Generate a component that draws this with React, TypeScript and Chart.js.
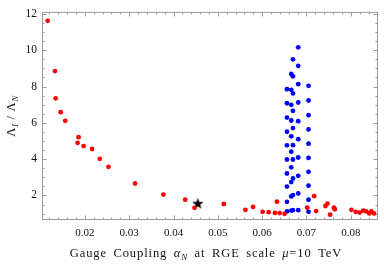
import { useEffect, useRef } from 'react';
import { Chart, registerables } from 'chart.js';

Chart.register(...registerables);

// ---- data ----
const redX = [0.01161, 0.01325, 0.01341, 0.01453, 0.01557, 0.01858, 0.01836, 0.01971, 0.02164, 0.02337, 0.02533, 0.03132, 0.03771, 0.04265, 0.04475, 0.05134, 0.05622, 0.05795, 0.06011, 0.06146, 0.0629, 0.06335, 0.06394, 0.06506, 0.07017, 0.07174, 0.07219, 0.07429, 0.07474, 0.07534, 0.07618, 0.0764, 0.08014, 0.08112, 0.08202, 0.08283, 0.0835, 0.08418, 0.08463, 0.08524];
const redY = [11.62, 8.85, 7.35, 6.59, 6.11, 5.21, 4.9, 4.72, 4.56, 4.02, 3.58, 2.66, 2.05, 1.77, 1.32, 1.53, 1.21, 1.37, 1.1, 1.08, 1.04, 1.66, 1.03, 0.99, 1.33, 1.96, 1.14, 1.42, 1.55, 0.94, 1.33, 1.24, 1.21, 1.1, 1.06, 1.17, 1.12, 1.01, 1.12, 1.01];

const blueX = [0.06814, 0.06695, 0.06814, 0.06657, 0.06695, 0.06814, 0.07046, 0.0656, 0.06657, 0.06695, 0.07046, 0.0656, 0.06657, 0.06814, 0.06695, 0.07046, 0.0656, 0.06657, 0.06814, 0.06695, 0.0656, 0.07046, 0.06657, 0.06814, 0.0656, 0.06695, 0.07046, 0.06657, 0.0656, 0.06695, 0.06814, 0.07046, 0.06657, 0.0656, 0.06695, 0.06657, 0.06814, 0.07046, 0.0656, 0.07046, 0.06657, 0.06695, 0.06814, 0.07046, 0.0656, 0.06657, 0.0656, 0.06695, 0.06814, 0.07046];
const blueY = [10.16, 9.5, 9.14, 8.69, 8.56, 8.13, 8.04, 7.85, 7.82, 7.62, 7.23, 7.08, 6.99, 7.12, 6.66, 6.42, 6.29, 6.13, 6.09, 5.71, 5.51, 5.64, 5.26, 5.1, 4.76, 4.77, 4.85, 4.41, 3.98, 3.98, 4.09, 4.07, 3.55, 3.21, 2.94, 2.74, 3.08, 3.3, 2.49, 2.54, 1.95, 2.02, 2.11, 1.77, 1.65, 1.17, 1.12, 1.19, 1.19, 1.1];

const starX = [0.04549];
const starY = [1.55];

const xTickValues = [0.02, 0.03, 0.04, 0.05, 0.06, 0.07, 0.08];
const yTickValues = [2, 4, 6, 8, 10, 12];

const xRange = [0.010326, 0.08614];
const yRange = [0.649, 12.11];

const xTitleParts = [
  { t: 'Gauge Coupling ' },
  { t: 'α', italic: true },
  { t: 'N', italic: true, sub: true },
  { t: ' at RGE scale ' },
  { t: 'μ', italic: true },
  { t: '=10 TeV' },
];
const yTitleParts = [
  { t: 'Λ' },
  { t: 'I', italic: true, sub: true },
  { t: ' / ' },
  { t: 'Λ' },
  { t: 'N', italic: true, sub: true },
];

const FONT = '"Liberation Serif", "DejaVu Serif", serif';

type Part = { t: string; italic?: boolean; sub?: boolean };

function setPartFont(ctx: CanvasRenderingContext2D, p: Part, size: number) {
  const s = p.sub ? size * 0.72 : size;
  ctx.font = `${p.italic ? 'italic ' : ''}${s}px ${FONT}`;
}

function measureParts(ctx: CanvasRenderingContext2D, parts: Part[], size: number) {
  let w = 0;
  for (const p of parts) {
    setPartFont(ctx, p, size);
    w += ctx.measureText(p.t).width;
  }
  return w;
}

function drawParts(ctx: CanvasRenderingContext2D, parts: Part[], size: number, x: number, y: number) {
  let cx = x;
  for (const p of parts) {
    setPartFont(ctx, p, size);
    ctx.fillText(p.t, cx, p.sub ? y + size * 0.25 : y);
    cx += ctx.measureText(p.t).width;
  }
}

function makeStar(): HTMLCanvasElement {
  const c = document.createElement('canvas');
  c.width = 13;
  c.height = 13;
  const g = c.getContext('2d')!;
  const cx = 6.5, cy = 6.7, ro = 6, ri = 2.5;
  g.beginPath();
  for (let i = 0; i < 10; i++) {
    const r = i % 2 === 0 ? ro : ri;
    const a = -Math.PI / 2 + (i * Math.PI) / 5;
    const px = cx + r * Math.cos(a);
    const py = cy + r * Math.sin(a);
    if (i === 0) g.moveTo(px, py);
    else g.lineTo(px, py);
  }
  g.closePath();
  g.fillStyle = '#000';
  g.fill();
  return c;
}

const framePlugin = {
  id: 'mmaFrame',
  beforeDatasetsDraw(chart: any) {
    const { ctx, chartArea: a, scales } = chart;
    const xs = scales.x;
    const ys = scales.y;
    ctx.save();
    ctx.strokeStyle = '#9a9a9a';
    ctx.lineWidth = 1;
    ctx.strokeRect(a.left + 0.5, a.top + 0.5, a.right - a.left - 1, a.bottom - a.top - 1);
    ctx.beginPath();
    // x ticks: minor every 0.002, major every 0.01
    const kx0 = Math.ceil(xs.min / 0.002 - 1e-9);
    const kx1 = Math.floor(xs.max / 0.002 + 1e-9);
    for (let k = kx0; k <= kx1; k++) {
      const px = Math.round(xs.getPixelForValue(k * 0.002)) + 0.5;
      const len = k % 5 === 0 ? 4.5 : 2.5;
      ctx.moveTo(px, a.bottom);
      ctx.lineTo(px, a.bottom - len);
      ctx.moveTo(px, a.top);
      ctx.lineTo(px, a.top + len);
    }
    // y ticks: minor every 0.5, major every 2
    const ky0 = Math.ceil(ys.min / 0.5 - 1e-9);
    const ky1 = Math.floor(ys.max / 0.5 + 1e-9);
    for (let k = ky0; k <= ky1; k++) {
      const py = Math.round(ys.getPixelForValue(k * 0.5)) + 0.5;
      const len = k % 4 === 0 ? 4.5 : 2.5;
      ctx.moveTo(a.left, py);
      ctx.lineTo(a.left + len, py);
      ctx.moveTo(a.right, py);
      ctx.lineTo(a.right - len, py);
    }
    ctx.stroke();
    ctx.restore();
  },
  afterDraw(chart: any) {
    const { ctx, chartArea: a } = chart;
    ctx.save();
    ctx.fillStyle = '#111';
    ctx.textBaseline = 'alphabetic';
    ctx.textAlign = 'left';
    (ctx as any).letterSpacing = '0.9px';
    (ctx as any).wordSpacing = '2.5px';
    const size = 12.5;
    const wx = measureParts(ctx, xTitleParts, size);
    drawParts(ctx, xTitleParts, size, 70 + (272 - wx) / 2, 257);
    (ctx as any).letterSpacing = '0.7px';
    const wy = measureParts(ctx, yTitleParts, size);
    ctx.translate(15, (a.top + a.bottom) / 2);
    ctx.rotate(-Math.PI / 2);
    drawParts(ctx, yTitleParts, size, -wy / 2, 0);
    ctx.restore();
  },
};

export default function App() {
  const ref = useRef<HTMLCanvasElement | null>(null);

  useEffect(() => {
    if (!ref.current) return;
    const star = makeStar();
    const red = redX.map((x, i) => ({ x, y: redY[i] }));
    const blue = blueX.map((x, i) => ({ x, y: blueY[i] }));
    const starPts = starX.map((x, i) => ({ x, y: starY[i] }));
    const chart = new Chart(ref.current, {
      type: 'scatter',
      data: {
        datasets: [
          { data: red, backgroundColor: '#ff0000', borderWidth: 0, pointRadius: 2.4 },
          { data: blue, backgroundColor: '#0000ff', borderWidth: 0, pointRadius: 2.4 },
          { data: starPts, pointStyle: star as any, pointRadius: 6, backgroundColor: '#000', borderWidth: 0 },
        ],
      },
      options: {
        animation: false,
        responsive: false,
        maintainAspectRatio: false,
        layout: { padding: { top: 8, right: 5, bottom: 0, left: 0 } },
        plugins: { legend: { display: false }, tooltip: { enabled: false } },
        scales: {
          x: {
            type: 'linear',
            min: xRange[0],
            max: xRange[1],
            grid: { display: false, drawTicks: false },
            border: { display: false },
            afterFit: (s: any) => { s.height = 44; },
            afterBuildTicks: (s: any) => { s.ticks = xTickValues.map((v) => ({ value: v })); },
            ticks: {
              padding: 7,
              maxRotation: 0,
              color: '#111',
              font: { family: FONT, size: 11 },
              callback: (v: any) => Number(v).toFixed(2),
            },
          },
          y: {
            type: 'linear',
            min: yRange[0],
            max: yRange[1],
            grid: { display: false, drawTicks: false },
            border: { display: false },
            afterFit: (s: any) => { s.width = 42; },
            afterBuildTicks: (s: any) => { s.ticks = yTickValues.map((v) => ({ value: v })); },
            ticks: {
              padding: 5,
              color: '#111',
              font: { family: FONT, size: 11.5 },
              callback: (v: any) => String(v),
            },
          },
        },
      },
      plugins: [framePlugin],
    });
    return () => chart.destroy();
  }, []);

  return (
    <div style={{ position: 'fixed', left: 0, top: 0, width: 384, height: 264, background: '#fff' }}>
      <canvas ref={ref} width={384} height={264} style={{ display: 'block', width: 384, height: 264 }} />
    </div>
  );
}
